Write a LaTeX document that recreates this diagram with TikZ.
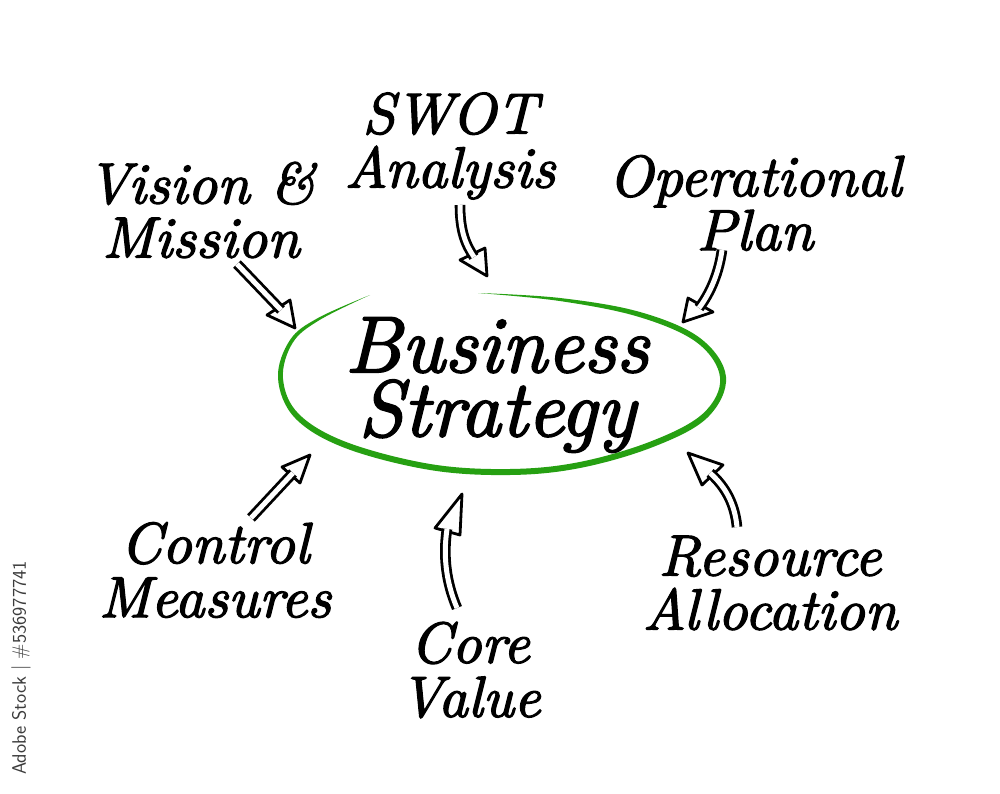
\documentclass[tikz,border=0pt]{standalone}
\usepackage{fontspec}
\newfontfamily\handfont{lmroman10-italic.otf}[FakeBold=2.2]
\definecolor{ringgreen}{RGB}{38,160,18}
\definecolor{wmgray}{RGB}{60,60,60}
\tikzset{
  lbl/.style={font=\handfont\fontsize{58}{54}\selectfont, align=center, inner sep=0pt},
  bigl/.style={font=\handfont\fontsize{80}{64}\selectfont, align=center, inner sep=0pt},
  shaft/.style={draw=black, line width=2.8pt, double=white, double distance=5pt},
  head/.style={draw=black, fill=white, line width=2.8pt, line join=round},
}
\begin{document}
\begin{tikzpicture}[x=1pt,y=-1pt]
\useasboundingbox (0,0) rectangle (1000,794);
\fill[white] (0,0) rectangle (1000,794);

% hand-drawn ring (tapered stroke as a filled band)
\fill[ringgreen] plot[smooth, tension=0.6] coordinates {(478,293) (560,298) (640,312) (700,338) (726,377) (707,418) (653,447) (580,468) (510,475) (430,470) (345,448) (295,418) (278,378) (290,340) (318,318) (370,295)}
  -- plot[smooth, tension=0.6] coordinates {(370,295) (319.1,320.3) (292.5,343.1) (283.0,378.7) (298.9,414.1) (347.2,442.4) (430.8,464.1) (509.9,469) (579.1,462.1) (650.8,441.4) (702.8,413.7) (720.1,378.0) (696.7,342.4) (638.5,316.8) (559.7,301.0) (478,293)} -- cycle;

% labels
\node[bigl] (bs) at (497,385) {Business\\Strategy};
\node[lbl] (swot) at (450,146) {SWOT\\Analysis};
\node[lbl] (vm) at (201,210) {Vision \&\\Mission};
\node[lbl] (op) at (755,203) {Operational\\Plan};
\node[lbl] (cm) at (215,570) {Control\\Measures};
\node[lbl] (cv) at (470,670) {Core\\Value};
\node[lbl] (ra) at (770,583) {Resource\\Allocation};

% watermark
\node[rotate=90, font=\sffamily\fontsize{19.5}{19.5}\selectfont, text=wmgray, inner sep=0pt] (wm) at (21,668) {Adobe Stock | \#536977741};

% arrow: Vision & Mission
\coordinate (vmT) at (237,264); \coordinate (vmE) at (281,310);
\coordinate (vmA) at (267,315); \coordinate (vmP) at (295,328); \coordinate (vmB) at (290,300);
\draw[head] (vmA) -- (vmP) -- (vmB) -- cycle;
\draw[shaft] (vmT) -- (vmE);

% arrow: SWOT
\coordinate (swT) at (460,205); \coordinate (swE) at (474,257);
\coordinate (swA) at (460,260); \coordinate (swP) at (487,276); \coordinate (swB) at (485,248);
\draw[head] (swA) -- (swP) -- (swB) -- cycle;
\draw[shaft] (swT) .. controls (460,232) and (466,245) .. (swE);

% arrow: Operational Plan
\coordinate (opT) at (722,250); \coordinate (opE) at (699,308);
\coordinate (opA) at (688,298); \coordinate (opP) at (683,322); \coordinate (opB) at (713,312);
\draw[head] (opA) -- (opP) -- (opB) -- cycle;
\draw[shaft] (opT) .. controls (719,272) and (711,292) .. (opE);

% arrow: Control Measures
\coordinate (cmT) at (251,518); \coordinate (cmE) at (293,473);
\coordinate (cmA) at (282,467); \coordinate (cmP) at (310,455); \coordinate (cmB) at (300,483);
\draw[head] (cmA) -- (cmP) -- (cmB) -- cycle;
\draw[shaft] (cmT) -- (cmE);

% arrow: Core Value
\coordinate (cvT) at (457,608); \coordinate (cvE) at (447,529);
\coordinate (cvA) at (435,528); \coordinate (cvP) at (462,494); \coordinate (cvB) at (460,535);
\draw[head] (cvA) -- (cvP) -- (cvB) -- cycle;
\draw[shaft] (cvT) .. controls (446,582) and (443,556) .. (cvE);

% arrow: Resource Allocation
\coordinate (raT) at (737,527); \coordinate (raE) at (710,473);
\coordinate (raA) at (723,465); \coordinate (raP) at (688,453); \coordinate (raB) at (702,485);
\draw[head] (raA) -- (raP) -- (raB) -- cycle;
\draw[shaft] (raT) .. controls (735,505) and (726,487) .. (raE);
\end{tikzpicture}
\end{document}
